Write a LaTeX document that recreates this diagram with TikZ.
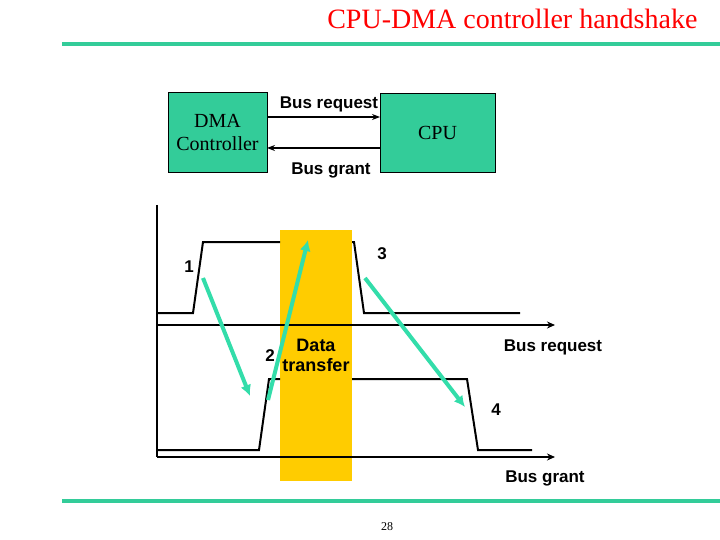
\documentclass[tikz,border=0pt]{standalone}
\usepackage{fontspec}
\usetikzlibrary{arrows.meta}
\setmainfont{Liberation Serif}
\newfontfamily\arial{Liberation Sans}
\begin{document}
\begin{tikzpicture}[x=1pt,y=-1pt,
  box/.style={draw=black,fill=boxgreen,inner sep=0},
  lbl/.style={font=\arial\bfseries\fontsize{17}{19}\selectfont,align=center},
  wave/.style={black,line width=2pt},
  tarr/.style={draw=teal2,line width=4pt,-{Latex[length=11pt,width=11pt]}},
  barr/.style={black,line width=1.2pt,-{Stealth[length=8pt,width=6pt]}}]
\useasboundingbox (0,0) rectangle (720,540);
\definecolor{boxgreen}{HTML}{33CC99}
\definecolor{teal2}{HTML}{33DDAA}
\definecolor{gold}{HTML}{FFCC00}
\draw[boxgreen,line width=4pt] (62,44) -- (720,44);
\draw[boxgreen,line width=4pt] (62,501) -- (720,501);
\node[anchor=east,red,font=\fontsize{28}{32}\selectfont] (title) at (701,19) {CPU-DMA controller handshake};
\node[box,minimum width=99pt,minimum height=80pt,align=center,font=\fontsize{20}{23}\selectfont] (dma) at (217.5,132) {DMA\\Controller};
\node[box,minimum width=115pt,minimum height=79pt,font=\fontsize{20}{23}\selectfont] (cpu) at (437.5,132.5) {CPU};
\coordinate (dr1) at (267,117); \coordinate (cr1) at (380,117);
\coordinate (dr2) at (267,148); \coordinate (cr2) at (380,148);
\draw[barr] (dr1) -- (cr1);
\draw[barr] (cr2) -- (dr2);
\node[lbl] (breq) at (329,104) {Bus request};
\node[lbl] (bgr) at (331,170) {Bus grant};
\fill[gold] (280,230) rectangle (352,481);
\draw[wave] (157,205) -- (157,457);
\coordinate (a1) at (157,325); \coordinate (a2) at (555,325);
\coordinate (b1) at (157,457); \coordinate (b2) at (555,457);
\draw[black,line width=2pt,-{Stealth[length=8pt,width=7pt]}] (a1) -- (a2);
\draw[black,line width=2pt,-{Stealth[length=8pt,width=7pt]}] (b1) -- (b2);
\draw[wave] (157,313) -- (193,313) -- (203,242) -- (280,242);
\draw[wave] (352,242) -- (354,242) -- (364,313) -- (520,313);
\draw[wave] (157,450) -- (259,450) -- (269,379) -- (280,379);
\draw[wave] (352,379) -- (467,379) -- (478,450) -- (532,450);
\coordinate (t1s) at (203,278); \coordinate (t1e) at (250,396);
\coordinate (t2s) at (268,400); \coordinate (t2e) at (308,240);
\coordinate (t3s) at (365,278); \coordinate (t3e) at (465,407);
\draw[tarr] (t1s) -- (t1e);
\draw[tarr] (t2s) -- (t2e);
\draw[tarr] (t3s) -- (t3e);
\node[lbl] (n1) at (189,267) {1};
\node[lbl] (n3) at (382,254) {3};
\node[lbl] (n2) at (270,356) {2};
\node[lbl] (n4) at (496,410) {4};
\node[lbl,font=\arial\bfseries\fontsize{18}{20}\selectfont] (dt) at (316,355) {Data\\transfer};
\node[lbl] (lreq) at (553,347) {Bus request};
\node[lbl] (lgr) at (545,478) {Bus grant};
\node[font=\fontsize{12}{14}\selectfont] (pg) at (387,527) {28};
\end{tikzpicture}
\end{document}
